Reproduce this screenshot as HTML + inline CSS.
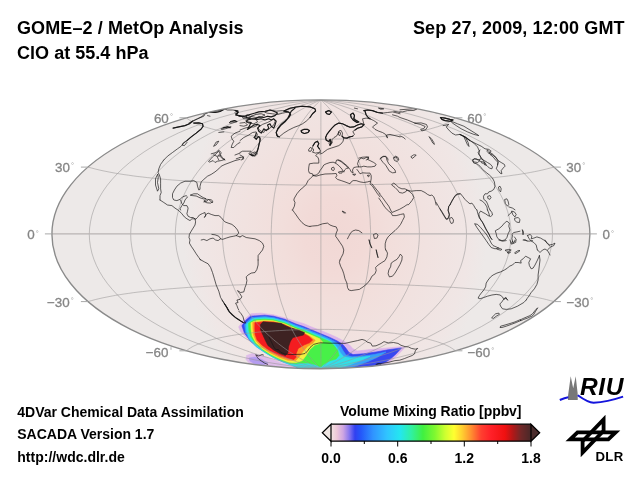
<!DOCTYPE html>
<html lang="en"><head><meta charset="utf-8"><title>GOME-2 / MetOp Analysis</title>
<style>html,body{margin:0;padding:0;background:#fff;overflow:hidden;}svg{display:block;}text{font-family:"Liberation Sans",sans-serif;}.b{font-weight:bold;fill:#000;}.g{fill:#858585;font-size:13.4px;stroke:#858585;stroke-width:0.3px;}</style></head><body>
<svg width="640" height="480" viewBox="0 0 640 480">
<defs>
<radialGradient id="bg" gradientUnits="userSpaceOnUse" cx="335" cy="235" r="152" gradientTransform="translate(335 235) scale(1 1.2) translate(-335 -235)"><stop offset="0" stop-color="#f1d8d5"/><stop offset="0.2" stop-color="#f2dad7"/><stop offset="0.35" stop-color="#f2dedb"/><stop offset="0.6" stop-color="#f1e2e0"/><stop offset="0.88" stop-color="#f0e6e5"/><stop offset="1" stop-color="#ede9e8"/></radialGradient>
<linearGradient id="cb" x1="0" x2="1" y1="0" y2="0">
<stop offset="0" stop-color="#f2e4e2"/>
<stop offset="0.03" stop-color="#ecc6d8"/>
<stop offset="0.06" stop-color="#cfa6e2"/>
<stop offset="0.09" stop-color="#8a78ee"/>
<stop offset="0.12" stop-color="#3040f0"/>
<stop offset="0.15" stop-color="#2458fa"/>
<stop offset="0.21" stop-color="#3094ff"/>
<stop offset="0.28" stop-color="#30c4ff"/>
<stop offset="0.345" stop-color="#24e6f0"/>
<stop offset="0.4" stop-color="#30f0a4"/>
<stop offset="0.46" stop-color="#40f040"/>
<stop offset="0.52" stop-color="#80f830"/>
<stop offset="0.57" stop-color="#ccff30"/>
<stop offset="0.615" stop-color="#ffff30"/>
<stop offset="0.655" stop-color="#ffd030"/>
<stop offset="0.7" stop-color="#ff9030"/>
<stop offset="0.75" stop-color="#ff4030"/>
<stop offset="0.8" stop-color="#ff2028"/>
<stop offset="0.87" stop-color="#f01010"/>
<stop offset="0.91" stop-color="#b01818"/>
<stop offset="0.95" stop-color="#702828"/>
<stop offset="1" stop-color="#482828"/>
</linearGradient>
<clipPath id="el"><ellipse cx="320.9" cy="234.3" rx="269" ry="134.4"/></clipPath>
</defs>
<rect width="640" height="480" fill="#fff"/>
<ellipse cx="320.9" cy="234.3" rx="269" ry="134.4" fill="url(#bg)"/>
<g clip-path="url(#el)">
<g stroke-linejoin="round"><polygon fill="#dcb4ea" stroke="#dcb4ea" stroke-width="0.6" points="238.7,326.9 243.5,320.0 251.0,313.8 261.0,313.2 273.5,314.8 286.0,318.2 296.0,321.4 303.5,323.5 312.3,327.3 321.0,330.6 329.8,334.2 337.3,337.6 344.0,341.2 349.5,345.0 353.0,348.8 357.0,351.0 370.0,349.6 385.0,348.2 400.0,346.8 405.0,347.4 399.0,353.5 394.0,358.5 389.0,362.5 380.0,366.0 360.0,371.0 320.0,373.0 300.0,371.0 296.0,366.0 286.1,363.3 277.3,359.6 268.4,354.6 260.8,349.5 252.0,343.1 244.5,335.5 240.7,331.8"/><polygon fill="#dfbdea" stroke="#dfbdea" stroke-width="0.6" points="246.5,355.5 252.0,353.6 262.0,355.5 272.0,359.5 282.0,363.0 292.0,365.5 300.0,367.0 300.0,372.0 255.0,371.0 250.0,364.0 246.0,359.5"/><polygon fill="#b49cf0" stroke="#b49cf0" stroke-width="0.6" points="249.0,358.0 255.0,357.0 262.0,359.5 268.0,363.0 262.0,365.5 254.0,363.5 250.0,361.0"/><polygon fill="#3848f0" stroke="#3848f0" stroke-width="0.6" points="241.9,325.8 246.0,320.0 250.5,316.2 264.8,315.2 273.5,316.2 284.8,319.3 296.0,324.0 303.5,326.5 312.3,330.2 321.0,333.8 329.8,337.4 337.3,341.0 342.9,344.6 346.0,348.3 349.0,352.5 353.0,354.6 363.5,353.8 376.0,352.0 388.0,349.8 401.5,347.9 396.0,354.0 391.0,358.5 386.0,362.0 375.0,366.0 356.0,370.0 320.0,372.0 300.0,370.0 293.1,364.2 284.2,361.6 275.0,357.6 266.2,352.5 258.5,347.3 250.4,341.1 244.4,332.9"/><polygon fill="#38a0f8" stroke="#38a0f8" stroke-width="0.6" points="244.6,324.7 248.0,321.0 252.0,317.5 264.8,316.6 273.5,317.5 284.8,320.5 296.0,325.2 303.5,327.8 312.3,331.6 321.0,335.0 329.8,338.8 336.0,342.2 340.5,346.0 343.0,350.5 346.0,355.0 352.0,356.8 363.0,356.0 374.0,354.5 386.0,352.0 377.0,357.5 368.0,361.5 356.0,366.0 340.0,370.0 320.0,371.0 300.0,369.0 291.3,365.0 282.8,362.0 273.4,357.5 264.4,352.3 256.6,347.0 249.0,339.6 245.5,331.9"/><polygon fill="#30e0e8" stroke="#30e0e8" stroke-width="0.6" points="246.3,324.0 249.5,321.5 253.0,318.6 264.8,317.8 273.5,318.6 284.8,321.6 296.0,326.4 303.5,329.0 312.3,333.0 321.0,336.5 329.5,340.3 334.5,344.0 338.0,348.5 340.5,353.0 343.5,356.5 350.0,358.0 360.0,357.5 370.0,356.3 362.0,360.0 352.0,364.0 340.0,368.0 320.0,370.0 300.0,368.5 290.4,364.8 281.8,361.3 272.3,356.8 263.7,351.5 255.8,346.1 249.2,338.6 246.7,331.3"/><polygon fill="#48f048" stroke="#48f048" stroke-width="0.6" points="248.5,323.3 251.5,321.5 254.5,319.7 264.8,319.0 273.5,319.7 284.8,322.7 296.0,327.6 303.5,330.2 312.3,334.2 321.0,338.0 329.8,341.5 334.0,345.5 337.8,350.8 339.0,355.5 336.0,359.0 330.0,360.7 323.5,364.4 321.0,367.0 314.8,364.4 308.5,363.1 301.0,363.1 296.1,363.6 290.0,363.6 280.8,360.1 271.1,355.6 262.9,350.2 256.0,344.1 250.9,337.1 248.9,330.7"/><polygon fill="#f4f040" stroke="#f4f040" stroke-width="0.6" points="250.9,322.7 254.0,321.5 256.5,320.7 264.8,320.2 273.5,320.8 284.8,323.8 296.0,328.8 303.5,331.9 312.3,335.6 319.8,338.8 322.9,342.5 314.8,345.0 309.8,349.4 306.0,355.6 302.3,360.6 296.1,362.6 289.2,362.4 279.8,358.8 270.5,354.2 262.2,348.7 255.8,342.6 252.2,336.0 251.1,329.5"/><polygon fill="#ff9628" stroke="#ff9628" stroke-width="0.6" points="252.8,322.5 256.0,322.2 264.8,321.2 273.5,321.6 284.8,324.6 296.0,329.8 303.5,332.8 310.0,336.4 315.2,340.2 312.5,343.4 307.5,346.6 302.6,352.0 299.0,357.0 295.8,360.4 287.9,360.3 278.8,357.0 269.2,352.3 261.4,346.7 256.1,341.0 253.5,334.9 252.9,328.4"/><polygon fill="#f41c20" stroke="#f41c20" stroke-width="0.6" points="254.9,322.5 258.0,322.4 264.8,321.8 273.5,322.2 284.8,325.2 296.0,330.6 303.5,333.4 309.0,336.6 312.6,340.0 309.6,342.8 304.0,345.0 298.2,348.4 296.1,353.7 296.1,357.3 294.0,359.5 288.8,358.5 279.3,355.5 269.8,350.7 261.9,345.0 257.1,339.9 255.1,334.4 254.8,328.4"/><polygon fill="#3e2222" stroke="#3e2222" stroke-width="0.6" points="260.5,324.5 262.9,321.8 273.5,322.6 281.0,323.3 285.4,325.7 291.0,328.0 298.5,330.0 304.5,332.6 303.5,335.0 298.5,336.2 292.9,337.5 290.4,341.2 288.5,346.8 287.9,353.0 285.4,355.6 279.8,353.6 273.5,349.9 267.9,345.5 265.4,340.5 262.9,334.9 260.4,329.5"/></g>
<g fill="none" stroke="#989696" stroke-width="0.55">
<path d="M320.9 368.8 L307.4 367.7 L294.1 366.3 L281.1 364.5 L268.3 362.5 L255.8 360.1 L243.6 357.4 L231.8 354.4 L220.4 351.2 L209.3 347.7 L198.7 343.9 L188.4 339.9 L178.6 335.7 L169.3 331.2 L160.4 326.6 L152.0 321.7 L144.1 316.7 L136.7 311.5 L129.8 306.2 L123.4 300.7 L117.5 295.1 L112.2 289.3 L107.4 283.5 L103.2 277.6 L99.5 271.5 L96.4 265.4 L93.9 259.3 L91.9 253.1 L90.5 246.8 L89.6 240.6 L89.3 234.3 L89.6 228.0 L90.5 221.8 L91.9 215.5 L93.9 209.3 L96.4 203.2 L99.5 197.1 L103.2 191.0 L107.4 185.1 L112.2 179.3 L117.5 173.5 L123.4 167.9 L129.8 162.4 L136.7 157.1 L144.1 151.9 L152.0 146.9 L160.4 142.0 L169.3 137.4 L178.6 132.9 L188.4 128.7 L198.7 124.7 L209.3 120.9 L220.4 117.4 L231.8 114.2 L243.6 111.2 L255.8 108.5 L268.3 106.1 L281.1 104.1 L294.1 102.3 L307.4 100.9 L320.9 99.8"/>
<path d="M320.9 368.8 L308.9 366.9 L297.2 364.7 L285.8 362.2 L274.8 359.5 L264.2 356.5 L253.9 353.4 L244.0 349.9 L234.5 346.3 L225.4 342.5 L216.7 338.5 L208.4 334.3 L200.5 330.0 L193.0 325.5 L186.0 320.8 L179.3 316.0 L173.1 311.1 L167.3 306.1 L161.9 301.0 L156.9 295.8 L152.4 290.5 L148.3 285.1 L144.6 279.6 L141.3 274.1 L138.5 268.5 L136.1 262.9 L134.2 257.2 L132.6 251.5 L131.6 245.8 L130.9 240.0 L130.7 234.3 L130.9 228.6 L131.6 222.8 L132.6 217.1 L134.2 211.4 L136.1 205.7 L138.5 200.1 L141.3 194.5 L144.6 189.0 L148.3 183.5 L152.4 178.1 L156.9 172.8 L161.9 167.6 L167.3 162.5 L173.1 157.5 L179.3 152.6 L186.0 147.8 L193.0 143.1 L200.5 138.6 L208.4 134.3 L216.7 130.1 L225.4 126.1 L234.5 122.3 L244.0 118.7 L253.9 115.2 L264.2 112.1 L274.8 109.1 L285.8 106.4 L297.2 103.9 L308.9 101.7 L320.9 99.8"/>
<path d="M320.9 368.8 L311.1 366.2 L301.7 363.4 L292.7 360.4 L284.0 357.1 L275.6 353.7 L267.7 350.2 L260.0 346.5 L252.7 342.6 L245.8 338.6 L239.2 334.4 L232.9 330.1 L226.9 325.8 L221.3 321.3 L216.0 316.7 L211.1 312.0 L206.5 307.2 L202.1 302.3 L198.2 297.4 L194.5 292.3 L191.2 287.3 L188.2 282.1 L185.5 276.9 L183.1 271.7 L181.0 266.4 L179.3 261.1 L177.9 255.8 L176.7 250.4 L176.0 245.1 L175.5 239.7 L175.3 234.3 L175.5 228.9 L176.0 223.5 L176.7 218.2 L177.9 212.8 L179.3 207.5 L181.0 202.2 L183.1 196.9 L185.5 191.7 L188.2 186.5 L191.2 181.3 L194.5 176.3 L198.2 171.2 L202.1 166.3 L206.5 161.4 L211.1 156.6 L216.0 151.9 L221.3 147.3 L226.9 142.8 L232.9 138.5 L239.2 134.2 L245.8 130.0 L252.7 126.0 L260.0 122.1 L267.7 118.4 L275.6 114.9 L284.0 111.5 L292.7 108.2 L301.7 105.2 L311.1 102.4 L320.9 99.8"/>
<path d="M320.9 368.8 L314.0 365.7 L307.4 362.4 L301.2 359.0 L295.2 355.4 L289.4 351.7 L284.0 347.9 L278.8 344.0 L273.9 340.0 L269.2 335.8 L264.7 331.6 L260.5 327.3 L256.5 322.9 L252.8 318.4 L249.3 313.8 L246.0 309.2 L242.9 304.5 L240.1 299.7 L237.5 294.9 L235.0 290.1 L232.8 285.1 L230.9 280.2 L229.1 275.2 L227.5 270.1 L226.2 265.1 L225.0 260.0 L224.1 254.9 L223.4 249.7 L222.9 244.6 L222.5 239.5 L222.4 234.3 L222.5 229.1 L222.9 224.0 L223.4 218.9 L224.1 213.7 L225.0 208.6 L226.2 203.5 L227.5 198.5 L229.1 193.4 L230.9 188.4 L232.8 183.5 L235.0 178.5 L237.5 173.7 L240.1 168.9 L242.9 164.1 L246.0 159.4 L249.3 154.8 L252.8 150.2 L256.5 145.7 L260.5 141.3 L264.7 137.0 L269.2 132.8 L273.9 128.6 L278.8 124.6 L284.0 120.7 L289.4 116.9 L295.2 113.2 L301.2 109.6 L307.4 106.2 L314.0 102.9 L320.9 99.8"/>
<path d="M320.9 368.8 L317.3 365.3 L314.0 361.8 L310.7 358.1 L307.7 354.4 L304.8 350.5 L302.0 346.6 L299.4 342.5 L296.9 338.4 L294.5 334.2 L292.3 330.0 L290.2 325.6 L288.2 321.2 L286.3 316.7 L284.6 312.2 L283.0 307.6 L281.4 303.0 L280.0 298.3 L278.7 293.5 L277.5 288.7 L276.4 283.9 L275.4 279.1 L274.5 274.2 L273.8 269.3 L273.1 264.3 L272.5 259.3 L272.1 254.4 L271.7 249.4 L271.5 244.3 L271.3 239.3 L271.2 234.3 L271.3 229.3 L271.5 224.3 L271.7 219.2 L272.1 214.2 L272.5 209.3 L273.1 204.3 L273.8 199.3 L274.5 194.4 L275.4 189.5 L276.4 184.7 L277.5 179.9 L278.7 175.1 L280.0 170.3 L281.4 165.6 L283.0 161.0 L284.6 156.4 L286.3 151.9 L288.2 147.4 L290.2 143.0 L292.3 138.6 L294.5 134.4 L296.9 130.2 L299.4 126.1 L302.0 122.0 L304.8 118.1 L307.7 114.2 L310.7 110.5 L314.0 106.8 L317.3 103.3 L320.9 99.8"/>
<path d="M320.9 368.8 L320.9 365.2 L320.9 361.6 L320.9 357.8 L320.9 354.0 L320.9 350.1 L320.9 346.1 L320.9 342.0 L320.9 337.9 L320.9 333.7 L320.9 329.4 L320.9 325.1 L320.9 320.7 L320.9 316.2 L320.9 311.7 L320.9 307.1 L320.9 302.5 L320.9 297.8 L320.9 293.1 L320.9 288.3 L320.9 283.5 L320.9 278.7 L320.9 273.8 L320.9 269.0 L320.9 264.1 L320.9 259.1 L320.9 254.2 L320.9 249.2 L320.9 244.3 L320.9 239.3 L320.9 234.3 L320.9 229.3 L320.9 224.3 L320.9 219.4 L320.9 214.4 L320.9 209.5 L320.9 204.5 L320.9 199.6 L320.9 194.8 L320.9 189.9 L320.9 185.1 L320.9 180.3 L320.9 175.5 L320.9 170.8 L320.9 166.1 L320.9 161.5 L320.9 156.9 L320.9 152.4 L320.9 147.9 L320.9 143.5 L320.9 139.2 L320.9 134.9 L320.9 130.7 L320.9 126.6 L320.9 122.5 L320.9 118.5 L320.9 114.6 L320.9 110.8 L320.9 107.0 L320.9 103.4 L320.9 99.8"/>
<path d="M320.9 368.8 L324.5 365.3 L327.8 361.8 L331.1 358.1 L334.1 354.4 L337.0 350.5 L339.8 346.6 L342.4 342.5 L344.9 338.4 L347.3 334.2 L349.5 330.0 L351.6 325.6 L353.6 321.2 L355.5 316.7 L357.2 312.2 L358.8 307.6 L360.4 303.0 L361.8 298.3 L363.1 293.5 L364.3 288.7 L365.4 283.9 L366.4 279.1 L367.3 274.2 L368.0 269.3 L368.7 264.3 L369.3 259.3 L369.7 254.4 L370.1 249.4 L370.3 244.3 L370.5 239.3 L370.6 234.3 L370.5 229.3 L370.3 224.3 L370.1 219.2 L369.7 214.2 L369.3 209.3 L368.7 204.3 L368.0 199.3 L367.3 194.4 L366.4 189.5 L365.4 184.7 L364.3 179.9 L363.1 175.1 L361.8 170.3 L360.4 165.6 L358.8 161.0 L357.2 156.4 L355.5 151.9 L353.6 147.4 L351.6 143.0 L349.5 138.6 L347.3 134.4 L344.9 130.2 L342.4 126.1 L339.8 122.0 L337.0 118.1 L334.1 114.2 L331.1 110.5 L327.8 106.8 L324.5 103.3 L320.9 99.8"/>
<path d="M320.9 368.8 L327.8 365.7 L334.4 362.4 L340.6 359.0 L346.6 355.4 L352.4 351.7 L357.8 347.9 L363.0 344.0 L367.9 340.0 L372.6 335.8 L377.1 331.6 L381.3 327.3 L385.3 322.9 L389.0 318.4 L392.5 313.8 L395.8 309.2 L398.9 304.5 L401.7 299.7 L404.3 294.9 L406.8 290.1 L409.0 285.1 L410.9 280.2 L412.7 275.2 L414.3 270.1 L415.6 265.1 L416.8 260.0 L417.7 254.9 L418.4 249.7 L418.9 244.6 L419.3 239.5 L419.4 234.3 L419.3 229.1 L418.9 224.0 L418.4 218.9 L417.7 213.7 L416.8 208.6 L415.6 203.5 L414.3 198.5 L412.7 193.4 L410.9 188.4 L409.0 183.5 L406.8 178.5 L404.3 173.7 L401.7 168.9 L398.9 164.1 L395.8 159.4 L392.5 154.8 L389.0 150.2 L385.3 145.7 L381.3 141.3 L377.1 137.0 L372.6 132.8 L367.9 128.6 L363.0 124.6 L357.8 120.7 L352.4 116.9 L346.6 113.2 L340.6 109.6 L334.4 106.2 L327.8 102.9 L320.9 99.8"/>
<path d="M320.9 368.8 L330.7 366.2 L340.1 363.4 L349.1 360.4 L357.8 357.1 L366.2 353.7 L374.1 350.2 L381.8 346.5 L389.1 342.6 L396.0 338.6 L402.6 334.4 L408.9 330.1 L414.9 325.8 L420.5 321.3 L425.8 316.7 L430.7 312.0 L435.3 307.2 L439.7 302.3 L443.6 297.4 L447.3 292.3 L450.6 287.3 L453.6 282.1 L456.3 276.9 L458.7 271.7 L460.8 266.4 L462.5 261.1 L463.9 255.8 L465.1 250.4 L465.8 245.1 L466.3 239.7 L466.5 234.3 L466.3 228.9 L465.8 223.5 L465.1 218.2 L463.9 212.8 L462.5 207.5 L460.8 202.2 L458.7 196.9 L456.3 191.7 L453.6 186.5 L450.6 181.3 L447.3 176.3 L443.6 171.2 L439.7 166.3 L435.3 161.4 L430.7 156.6 L425.8 151.9 L420.5 147.3 L414.9 142.8 L408.9 138.5 L402.6 134.2 L396.0 130.0 L389.1 126.0 L381.8 122.1 L374.1 118.4 L366.2 114.9 L357.8 111.5 L349.1 108.2 L340.1 105.2 L330.7 102.4 L320.9 99.8"/>
<path d="M320.9 368.8 L332.9 366.9 L344.6 364.7 L356.0 362.2 L367.0 359.5 L377.6 356.5 L387.9 353.4 L397.8 349.9 L407.3 346.3 L416.4 342.5 L425.1 338.5 L433.4 334.3 L441.3 330.0 L448.8 325.5 L455.8 320.8 L462.5 316.0 L468.7 311.1 L474.5 306.1 L479.9 301.0 L484.9 295.8 L489.4 290.5 L493.5 285.1 L497.2 279.6 L500.5 274.1 L503.3 268.5 L505.7 262.9 L507.6 257.2 L509.2 251.5 L510.2 245.8 L510.9 240.0 L511.1 234.3 L510.9 228.6 L510.2 222.8 L509.2 217.1 L507.6 211.4 L505.7 205.7 L503.3 200.1 L500.5 194.5 L497.2 189.0 L493.5 183.5 L489.4 178.1 L484.9 172.8 L479.9 167.6 L474.5 162.5 L468.7 157.5 L462.5 152.6 L455.8 147.8 L448.8 143.1 L441.3 138.6 L433.4 134.3 L425.1 130.1 L416.4 126.1 L407.3 122.3 L397.8 118.7 L387.9 115.2 L377.6 112.1 L367.0 109.1 L356.0 106.4 L344.6 103.9 L332.9 101.7 L320.9 99.8"/>
<path d="M320.9 368.8 L334.4 367.7 L347.7 366.3 L360.7 364.5 L373.5 362.5 L386.0 360.1 L398.2 357.4 L410.0 354.4 L421.4 351.2 L432.5 347.7 L443.1 343.9 L453.4 339.9 L463.2 335.7 L472.5 331.2 L481.4 326.6 L489.8 321.7 L497.7 316.7 L505.1 311.5 L512.0 306.2 L518.4 300.7 L524.3 295.1 L529.6 289.3 L534.4 283.5 L538.6 277.6 L542.3 271.5 L545.4 265.4 L547.9 259.3 L549.9 253.1 L551.3 246.8 L552.2 240.6 L552.5 234.3 L552.2 228.0 L551.3 221.8 L549.9 215.5 L547.9 209.3 L545.4 203.2 L542.3 197.1 L538.6 191.0 L534.4 185.1 L529.6 179.3 L524.3 173.5 L518.4 167.9 L512.0 162.4 L505.1 157.1 L497.7 151.9 L489.8 146.9 L481.4 142.0 L472.5 137.4 L463.2 132.9 L453.4 128.7 L443.1 124.7 L432.5 120.9 L421.4 117.4 L410.0 114.2 L398.2 111.2 L386.0 108.5 L373.5 106.1 L360.7 104.1 L347.7 102.3 L334.4 100.9 L320.9 99.8"/>
<path d="M186.4 350.8 L187.6 349.8 L189.0 348.8 L190.5 347.9 L192.1 346.9 L193.8 346.0 L195.7 345.2 L197.6 344.3 L199.7 343.5 L201.8 342.7 L204.1 341.9 L206.5 341.2 L208.9 340.5 L211.4 339.8 L214.0 339.1 L216.7 338.5 L219.5 337.9 L222.3 337.3 L225.2 336.7 L228.2 336.2 L231.3 335.6 L234.4 335.1 L237.5 334.6 L240.8 334.2 L244.1 333.8 L247.4 333.3 L250.8 333.0 L254.2 332.6 L257.7 332.2 L261.2 331.9 L264.7 331.6 L268.3 331.3 L271.9 331.1 L275.6 330.8 L279.3 330.6 L283.0 330.4 L286.7 330.2 L290.4 330.0 L294.2 329.9 L298.0 329.8 L301.8 329.6 L305.6 329.6 L309.4 329.5 L313.2 329.4 L317.1 329.4 L320.9 329.4 L324.7 329.4 L328.6 329.4 L332.4 329.5 L336.2 329.6 L340.0 329.6 L343.8 329.8 L347.6 329.9 L351.4 330.0 L355.1 330.2 L358.8 330.4 L362.5 330.6 L366.2 330.8 L369.9 331.1 L373.5 331.3 L377.1 331.6 L380.6 331.9 L384.1 332.2 L387.6 332.6 L391.0 333.0 L394.4 333.3 L397.7 333.8 L401.0 334.2 L404.3 334.6 L407.4 335.1 L410.5 335.6 L413.6 336.2 L416.6 336.7 L419.5 337.3 L422.3 337.9 L425.1 338.5 L427.8 339.1 L430.4 339.8 L432.9 340.5 L435.3 341.2 L437.7 341.9 L440.0 342.7 L442.1 343.5 L444.2 344.3 L446.1 345.2 L448.0 346.0 L449.7 346.9 L451.3 347.9 L452.8 348.8 L454.2 349.8 L455.4 350.8"/>
<path d="M87.9 301.6 L91.5 300.6 L95.2 299.6 L99.0 298.7 L103.0 297.8 L107.0 297.0 L111.1 296.2 L115.4 295.4 L119.7 294.7 L124.1 294.0 L128.6 293.4 L133.2 292.7 L137.9 292.1 L142.6 291.6 L147.5 291.0 L152.4 290.5 L157.3 290.0 L162.4 289.5 L167.5 289.0 L172.6 288.6 L177.9 288.2 L183.1 287.8 L188.5 287.4 L193.9 287.1 L199.3 286.8 L204.8 286.4 L210.3 286.1 L215.9 285.9 L221.5 285.6 L227.2 285.4 L232.8 285.1 L238.6 284.9 L244.3 284.7 L250.1 284.5 L255.9 284.4 L261.7 284.2 L267.6 284.1 L273.5 284.0 L279.4 283.9 L285.3 283.8 L291.2 283.7 L297.1 283.6 L303.1 283.6 L309.0 283.6 L314.9 283.5 L320.9 283.5 L326.9 283.5 L332.8 283.6 L338.7 283.6 L344.7 283.6 L350.6 283.7 L356.5 283.8 L362.4 283.9 L368.3 284.0 L374.2 284.1 L380.1 284.2 L385.9 284.4 L391.7 284.5 L397.5 284.7 L403.2 284.9 L409.0 285.1 L414.6 285.4 L420.3 285.6 L425.9 285.9 L431.5 286.1 L437.0 286.4 L442.5 286.8 L447.9 287.1 L453.3 287.4 L458.7 287.8 L463.9 288.2 L469.2 288.6 L474.3 289.0 L479.4 289.5 L484.5 290.0 L489.4 290.5 L494.3 291.0 L499.2 291.6 L503.9 292.1 L508.6 292.7 L513.2 293.4 L517.7 294.0 L522.1 294.7 L526.4 295.4 L530.7 296.2 L534.8 297.0 L538.8 297.8 L542.8 298.7 L546.6 299.6 L550.3 300.6 L553.9 301.6"/>
<path d="M87.9 167.1 L91.5 168.0 L95.2 169.0 L99.0 169.9 L103.0 170.8 L107.0 171.6 L111.1 172.4 L115.4 173.2 L119.7 173.9 L124.1 174.6 L128.6 175.2 L133.2 175.9 L137.9 176.5 L142.6 177.0 L147.5 177.6 L152.4 178.1 L157.3 178.6 L162.4 179.1 L167.5 179.6 L172.6 180.0 L177.9 180.4 L183.1 180.8 L188.5 181.2 L193.9 181.5 L199.3 181.8 L204.8 182.2 L210.3 182.5 L215.9 182.7 L221.5 183.0 L227.2 183.2 L232.8 183.5 L238.6 183.7 L244.3 183.9 L250.1 184.1 L255.9 184.2 L261.7 184.4 L267.6 184.5 L273.5 184.6 L279.4 184.7 L285.3 184.8 L291.2 184.9 L297.1 185.0 L303.1 185.0 L309.0 185.0 L314.9 185.1 L320.9 185.1 L326.9 185.1 L332.8 185.0 L338.7 185.0 L344.7 185.0 L350.6 184.9 L356.5 184.8 L362.4 184.7 L368.3 184.6 L374.2 184.5 L380.1 184.4 L385.9 184.2 L391.7 184.1 L397.5 183.9 L403.2 183.7 L409.0 183.5 L414.6 183.2 L420.3 183.0 L425.9 182.7 L431.5 182.5 L437.0 182.2 L442.5 181.8 L447.9 181.5 L453.3 181.2 L458.7 180.8 L463.9 180.4 L469.2 180.0 L474.3 179.6 L479.4 179.1 L484.5 178.6 L489.4 178.1 L494.3 177.6 L499.2 177.0 L503.9 176.5 L508.6 175.9 L513.2 175.2 L517.7 174.6 L522.1 173.9 L526.4 173.2 L530.7 172.4 L534.8 171.6 L538.8 170.8 L542.8 169.9 L546.6 169.0 L550.3 168.0 L553.9 167.1"/>
<path d="M186.4 117.8 L187.6 118.8 L189.0 119.8 L190.5 120.7 L192.1 121.7 L193.8 122.6 L195.7 123.4 L197.6 124.3 L199.7 125.1 L201.8 125.9 L204.1 126.7 L206.5 127.4 L208.9 128.1 L211.4 128.8 L214.0 129.5 L216.7 130.1 L219.5 130.7 L222.3 131.3 L225.2 131.9 L228.2 132.4 L231.3 133.0 L234.4 133.5 L237.5 134.0 L240.8 134.4 L244.1 134.8 L247.4 135.3 L250.8 135.6 L254.2 136.0 L257.7 136.4 L261.2 136.7 L264.7 137.0 L268.3 137.3 L271.9 137.5 L275.6 137.8 L279.3 138.0 L283.0 138.2 L286.7 138.4 L290.4 138.6 L294.2 138.7 L298.0 138.8 L301.8 139.0 L305.6 139.0 L309.4 139.1 L313.2 139.2 L317.1 139.2 L320.9 139.2 L324.7 139.2 L328.6 139.2 L332.4 139.1 L336.2 139.0 L340.0 139.0 L343.8 138.8 L347.6 138.7 L351.4 138.6 L355.1 138.4 L358.8 138.2 L362.5 138.0 L366.2 137.8 L369.9 137.5 L373.5 137.3 L377.1 137.0 L380.6 136.7 L384.1 136.4 L387.6 136.0 L391.0 135.6 L394.4 135.3 L397.7 134.8 L401.0 134.4 L404.3 134.0 L407.4 133.5 L410.5 133.0 L413.6 132.4 L416.6 131.9 L419.5 131.3 L422.3 130.7 L425.1 130.1 L427.8 129.5 L430.4 128.8 L432.9 128.1 L435.3 127.4 L437.7 126.7 L440.0 125.9 L442.1 125.1 L444.2 124.3 L446.1 123.4 L448.0 122.6 L449.7 121.7 L451.3 120.7 L452.8 119.8 L454.2 118.8 L455.4 117.8"/>
<path d="M51.9 233.9H589.9" stroke="#b8b3b3" stroke-width="1.25"/>
</g>
<path fill="none" stroke="#161616" stroke-width="0.68" stroke-linejoin="round" stroke-linecap="round" d="M173.1 128.1L178.8 126.9L185.0 125.6L189.4 123.8L192.5 121.2L197.5 118.8L203.8 116.2L205.6 113.1L210.0 111.9L215.0 112.5L220.0 111.5L223.8 109.4M193.8 123.1L198.8 122.9L202.5 123.8L203.1 126.2L201.2 129.0L196.2 133.1L191.2 136.9L186.9 140.6L183.8 143.1L181.2 146.2L177.5 148.8L172.5 152.5L167.5 156.2L163.8 160.0M183.1 143.1L185.6 141.2L186.9 142.5L184.4 145.6L182.5 145.2ZM207.5 115.6L210.0 116.2M229.4 122.5L235.0 120.6L236.5 121.9L231.2 123.2ZM221.2 128.8L227.5 126.9L231.2 126.9L227.5 128.2L222.5 129.5ZM218.8 132.5L223.8 131.9M213.8 146.0L216.2 142.0L218.8 141.2L216.5 144.5ZM240.0 131.2L235.0 133.1L231.2 136.2L231.9 138.8L233.8 141.2L231.9 145.0L231.2 147.5L233.8 147.5L237.5 143.8L240.0 142.5M211.2 153.8L216.2 152.5L218.8 150.2L221.2 152.5L220.0 156.2L222.5 158.8L225.0 160.0M213.8 155.0L216.9 156.2L218.8 160.0M235.0 112.5L236.9 115.0L240.0 116.2M277.5 136.5L276.2 132.5L278.1 128.1L281.2 124.4L285.0 121.2L288.8 117.5L290.6 114.4L288.8 112.1L283.8 111.0L290.0 108.2L296.2 107.0L302.5 106.2L310.0 106.9L315.0 108.8L315.6 111.0L312.5 113.8L310.0 117.5L306.2 121.2L302.5 123.8L298.8 125.6L293.8 127.5L288.8 130.0L283.8 133.1L280.0 136.2ZM265.0 111.9L270.0 110.0L276.2 111.2L282.5 110.6L287.5 112.1L282.5 113.2L277.5 114.5L272.5 113.8L267.5 113.2ZM258.8 126.9L262.5 124.4L267.5 122.5L271.2 120.6L273.8 118.8L275.2 121.2L273.8 125.0L271.2 126.9L268.8 129.4L265.0 130.0L263.8 132.5L261.2 131.2L258.8 129.4ZM251.2 116.2L256.2 114.4L261.2 113.8L265.0 115.0L261.2 116.9L256.2 117.5ZM242.5 116.2L247.5 115.0L251.2 116.9L247.5 118.8L243.8 118.8ZM246.2 120.2L251.2 118.8L256.2 119.4L257.5 121.9L253.8 123.8L248.8 123.2ZM240.0 123.1L245.0 122.5L247.5 125.0L243.8 126.2L240.0 125.6M240.0 130.0L245.0 128.1L250.0 126.9L253.8 127.0L256.9 125.6M240.0 140.6L243.8 137.5L248.8 135.0L252.5 132.5L256.2 131.9L257.5 135.0L255.0 137.5L256.2 140.0L258.8 136.2L260.6 138.8L259.4 142.5L258.8 146.2L257.5 150.0L256.2 152.5L253.8 153.8L251.2 155.0L248.8 153.8L251.2 151.2L246.2 151.2L242.5 151.2L240.0 152.5M251.5 153.1L255.0 151.9L257.5 153.8L255.0 156.2L252.0 155.8ZM240.0 155.0L242.5 156.2L243.8 158.8L241.2 160.0M301.2 130.6L303.8 129.4L307.5 129.4L309.4 130.6L308.1 132.5L304.4 133.5L301.9 132.5ZM325.6 111.9L328.8 110.6L331.5 111.9L329.5 114.5L326.9 113.8ZM325.6 137.5L326.9 134.4L329.4 131.2L331.9 128.1L335.0 125.0L338.8 123.1L342.5 123.8L346.2 125.6L350.0 127.2L353.8 126.9L357.5 125.0L361.2 123.8L364.0 124.5L361.9 126.9L357.5 128.2L355.0 130.0L352.8 131.5L354.4 134.4L352.8 136.2L349.4 137.0M325.6 137.5L326.2 140.2L328.8 141.5L330.2 139.4L331.0 142.5L330.0 145.2L332.2 143.1L331.9 139.8L334.0 137.5L336.5 136.2L338.2 133.1L339.5 130.6L341.2 130.6L342.5 133.1L342.0 136.2L343.8 137.8L346.9 138.1L349.4 137.0M343.8 137.8L343.1 141.2L341.2 143.8L338.8 145.6L335.0 146.9L331.2 148.1L327.5 149.4L325.0 151.2L322.5 153.1L320.0 154.0M338.8 131.9L340.6 132.8L340.0 135.6L338.8 135.0ZM350.6 114.4L353.1 113.1L354.5 115.6L353.8 118.8L356.2 120.6L358.8 122.0L356.9 122.5L353.1 120.0L351.2 117.5ZM364.0 124.5L363.1 121.2L362.5 118.8L366.2 118.1L370.0 118.8L373.8 120.6L377.5 123.1L375.0 125.0L372.5 126.9L375.0 129.4L378.8 131.2L382.5 132.5L385.6 134.4L387.5 138.1L386.5 135.0L390.0 134.4L395.0 135.6L400.0 136.9M363.8 110.6L367.5 110.0L372.5 110.6L377.5 112.5L382.5 113.1L387.5 112.5L392.5 111.9L397.5 113.1L400.0 113.8M365.0 111.2L366.2 115.0L368.1 117.5L370.0 118.8M354.4 108.1L357.5 108.8M378.8 108.1L383.8 108.8L381.2 109.2ZM393.8 111.2L400.0 112.5M358.8 158.1L362.5 157.2L367.5 156.9L368.8 158.8L366.2 160.0M380.0 158.8L382.5 156.9L385.6 156.2L387.5 158.1L388.1 160.0M393.8 157.8L396.2 156.9L397.5 159.4M400.0 109.8L405.0 109.4L412.5 108.8L416.9 109.0L413.8 110.5L407.5 110.6L402.5 111.9L400.0 111.9M415.0 123.1L421.2 122.9L426.5 124.5L427.5 126.9L425.6 129.8L421.9 130.9L420.6 129.6L423.8 128.5L425.2 126.5L420.6 124.5ZM429.4 136.9L431.9 139.4L433.8 142.5L434.4 144.4L432.8 143.1L431.2 140.2ZM400.0 136.0L403.1 137.2L405.2 139.0M411.2 156.5L413.8 154.8L416.2 155.0L414.4 156.9L412.5 158.2ZM451.2 121.2L457.5 123.8L463.8 126.2L470.0 130.0L475.0 133.1L478.8 135.6L473.8 134.4L467.5 131.9L461.2 128.8L456.2 125.6L452.5 123.1ZM440.6 117.5L445.0 118.1L450.0 119.4L453.1 120.0L450.0 121.2L445.0 120.6L441.9 119.4ZM435.0 112.5L441.2 113.8L446.2 115.0M443.1 125.6L448.8 124.4L446.2 126.9L448.8 130.0L451.9 133.1L455.6 135.0L460.0 134.4L465.0 136.9L470.0 140.6L473.8 143.1L477.5 146.9L479.4 151.2L478.8 154.4L481.2 157.5L483.8 161.2L485.0 165.0M463.8 136.2L466.2 138.8L468.1 142.5L469.0 146.5L467.5 144.8L465.6 140.6ZM471.2 141.2L476.2 143.8L481.2 146.2L485.0 148.8L488.8 149.4L491.2 151.2L488.8 153.1L492.5 155.0L496.2 157.5L498.1 161.2L497.5 165.0M473.1 159.4L476.2 158.8L480.0 160.6L477.5 162.5L473.8 161.9ZM480.0 161.2L485.0 162.5L486.2 165.0M208.8 161.2L212.5 156.9L216.2 153.8L218.8 151.2L220.0 153.8L217.5 156.2L221.2 155.6L222.5 158.1L225.0 159.4L221.2 160.6L217.5 161.2L215.0 162.5L213.1 160.6L210.0 161.9ZM240.0 159.4L235.0 160.6L230.0 162.5L225.0 164.4L221.2 166.2L218.8 168.8L215.0 171.9L211.2 174.4L207.5 176.2L203.8 179.4L201.2 181.9L200.0 186.2L200.0 189.4L198.8 190.0L197.5 186.2L196.9 182.5L193.8 180.6L190.0 181.2L185.0 181.2L180.6 183.1L176.9 186.2L174.4 190.0L172.5 193.8L172.5 197.5L173.8 200.0L176.9 200.6L180.0 199.4L182.5 196.9L186.2 195.6L187.5 196.9L185.0 200.0L183.8 203.1L181.9 205.6L180.0 208.8L180.6 210.0M235.0 155.0L240.0 153.1M236.2 158.8L240.0 157.5M190.6 195.0L193.8 193.8L197.5 193.8L200.0 195.6L203.1 197.5L206.2 198.8L203.8 199.0L200.0 197.8L196.2 196.0L192.5 195.6ZM204.4 200.6L207.5 199.4L211.2 199.8L213.1 201.5L210.6 203.1L206.9 202.8L205.0 201.9ZM240.0 157.5L243.8 156.9L242.5 158.8M313.8 175.0L311.2 177.5L308.1 180.6L306.2 184.4L303.8 186.9L300.0 190.0L296.9 193.8L294.4 198.1L293.8 200.0L295.0 202.5L294.4 206.2L292.5 210.0M330.0 140.6L329.0 143.1L330.0 145.6L331.2 143.8L331.0 141.2M313.1 145.6L315.0 142.5L317.5 141.2L318.8 143.8L317.5 146.2L319.4 148.8L320.6 151.2L318.8 152.5L315.6 153.1L312.5 152.2L313.8 150.0L312.5 148.1ZM308.8 149.4L310.6 147.2L312.1 149.0L311.0 151.2L309.2 151.2ZM320.6 152.2L317.5 153.8L315.6 155.6L318.1 157.5L318.8 160.0L318.8 163.1L313.8 163.1L309.4 163.8L308.8 166.9L308.5 170.6L309.4 173.1L312.5 173.8L313.1 175.6L316.2 175.0L318.8 173.1L320.0 170.6L321.9 168.1L323.8 165.0L326.2 163.8L330.0 162.5L333.1 162.2L335.6 163.1L338.8 165.6L341.9 169.0L343.8 172.2L344.6 170.0L346.2 168.5L348.4 168.1L345.2 165.0L341.5 162.0L338.1 160.0L336.5 160.2L335.6 163.1M338.1 160.0L340.6 160.6L343.8 163.1L347.5 166.2L350.0 169.4L351.2 171.9L353.1 173.1L352.5 170.0L353.8 167.5L356.9 166.9L358.8 166.9L357.5 163.8L358.8 160.0L361.2 158.1L363.8 158.8L366.2 157.5L368.8 156.9L367.5 159.4L370.0 160.6L373.8 162.5L376.2 164.4L375.0 166.2L371.2 166.9L367.5 166.9L363.8 166.2L361.2 166.9L358.8 166.9M356.9 169.4L358.8 171.9L360.0 173.8L362.5 172.8L366.2 173.1L370.0 173.1L371.2 175.6L371.2 178.8L370.6 181.9L370.0 183.8L372.5 186.2L375.0 190.0L377.5 193.8L380.0 196.9M371.9 183.8L374.4 186.9L376.9 190.0L380.0 193.8M338.8 171.9L342.5 171.2L341.9 173.1L339.4 173.1ZM331.9 167.8L333.5 167.0L334.5 169.0L333.5 170.6L332.0 170.0ZM367.5 175.4L369.4 175.0L368.8 176.5ZM353.1 174.4L355.6 174.0L355.0 175.0ZM313.1 175.6L316.2 176.2L320.0 175.0L325.0 174.0L331.2 173.8L336.2 173.5L336.9 175.6L335.6 177.5L337.5 179.4L341.2 180.6L345.0 181.9L348.1 183.1L350.0 183.8L351.2 181.9L353.1 180.6L356.2 180.6L360.0 181.9L363.8 182.5L367.5 181.9L370.0 181.2L370.6 181.9M381.2 157.5L383.8 156.2L386.2 156.9L386.9 160.0L388.8 163.8L391.9 166.9L395.0 170.0L395.6 172.5L392.5 172.8L389.4 171.2L387.5 168.1L385.6 165.0L383.1 162.5L381.2 160.0ZM393.8 157.5L395.6 156.2L398.1 157.5L398.8 160.0L396.9 161.5L394.8 160.6ZM391.9 184.4L393.8 183.1L396.2 185.0L398.8 187.5L401.9 188.8L405.0 188.8L406.9 190.0L405.6 191.9L402.5 193.1L399.4 192.5L397.5 190.0L395.0 187.5L392.5 185.6ZM406.9 190.0L410.0 191.9L412.5 194.4L413.8 197.5L411.9 200.6L410.0 203.1L408.1 205.0M406.9 190.0L411.2 191.2L416.2 190.6L421.2 190.6L425.0 192.5L427.5 194.4L430.0 195.6L431.9 195.0L433.8 196.9L435.0 200.0L436.2 205.0M450.0 205.0L452.5 200.0L455.0 196.2L457.5 194.4L460.0 193.8M480.0 150.0L478.1 152.5L480.0 155.6L481.2 158.8L478.1 160.0L474.4 158.5L472.5 160.6L473.8 163.1L476.9 163.8L480.0 166.2L482.5 169.4L486.2 172.5L489.4 175.0L492.5 178.1L494.4 181.9L495.0 186.2L493.8 189.4L491.2 191.2L488.8 191.9L487.5 193.8L485.0 193.8L483.5 196.2L483.8 199.4L486.2 201.2L487.5 203.8L488.8 207.5L490.0 210.0M481.2 158.8L484.4 160.6L487.5 162.5L490.6 164.4L492.5 166.9L491.9 168.8L489.4 168.1L486.9 165.6L483.8 163.8L481.2 162.5M487.5 150.0L490.0 152.5L493.1 154.4L495.6 157.5L498.1 160.6L501.2 162.5L504.4 164.4L505.0 166.2L503.1 168.1L501.2 170.6L501.9 173.8L500.0 173.1L498.1 170.6L496.2 168.8L497.5 165.6L498.1 162.5L495.6 160.0L493.1 156.9L490.0 154.4L487.5 151.9ZM498.8 186.9L500.0 186.2L501.2 188.8L500.6 191.9L499.4 190.6ZM505.0 199.4L506.9 198.8L508.1 201.2L508.8 204.4L507.5 206.2L505.6 203.8ZM508.8 206.9L512.5 208.1L515.0 209.8M480.0 200.0L482.5 201.2L485.0 203.8L486.9 206.9L487.5 210.0M450.0 204.4L452.5 200.0L455.0 195.6L457.5 193.8L460.6 193.8L462.5 196.2L465.0 199.4L467.5 201.9L470.0 203.8L471.9 203.1L473.8 205.6L475.6 208.8L476.9 210.0M160.0 200.0L163.8 202.5L167.5 205.0L171.9 205.6L175.0 208.1L178.8 210.6L181.9 213.8L184.4 216.9L186.9 218.8L190.0 220.6L191.9 218.8L195.0 218.8M180.6 200.0L181.9 203.8L183.8 205.6L186.9 205.6L188.1 208.1L187.5 211.2L186.9 213.8L188.1 216.2L190.6 217.5L193.1 217.5L195.6 219.4L197.5 217.5L199.4 215.0L202.5 213.5L205.0 212.5L205.6 215.6L204.4 217.5L206.2 214.4L208.1 213.1L211.2 214.4L215.0 215.6L218.8 215.6L221.2 217.5L223.1 220.0L225.0 221.9L228.1 223.1L231.9 224.4L235.0 226.9L237.5 230.0L238.8 233.1L236.2 235.6L240.0 236.9M195.0 218.8L195.6 221.9L195.0 225.0L193.1 228.1L191.2 231.2L189.4 234.4L189.0 237.5L190.0 240.0L189.4 243.1L191.2 246.2L193.8 250.0L196.2 253.8L198.8 257.5L200.6 260.0M201.2 240.0L203.8 239.4L206.9 240.6L210.0 238.8L213.1 238.1L215.6 240.0L218.1 240.6L220.6 238.8L218.8 236.2L215.0 234.8L211.9 234.4M220.6 238.8L222.5 239.4L226.2 238.1L230.0 236.9L233.8 236.2L236.2 235.6M203.8 201.9L206.9 201.2L208.1 200.0M209.4 200.0L211.2 201.9L212.5 202.5M240.0 236.9L242.5 235.6L246.2 237.5L250.0 238.1L255.0 238.8L259.4 240.6L262.5 243.1L263.8 246.2L262.5 250.0L260.0 253.1L258.1 255.6L258.1 260.0M292.5 210.0L294.4 212.5L296.2 215.0L298.8 218.8L301.9 222.5L305.0 225.0L308.1 226.2L310.0 226.5M310.0 226.4L312.5 226.0L317.5 225.6L322.5 223.8L327.5 223.1L330.0 225.0L333.1 226.2L336.2 226.9L337.5 230.0L336.2 233.1L335.6 236.2L337.5 238.8L340.0 242.5L342.5 246.2L343.8 250.0L343.1 253.8L341.2 257.5L340.0 260.0M342.5 211.2L344.4 211.9L345.6 213.1L343.8 212.8ZM347.5 238.8L348.8 236.2L350.6 233.1L352.5 231.0L355.6 230.0L358.8 230.6L361.9 232.8M373.8 234.4L376.2 233.5L378.1 235.0L376.9 238.1L374.8 238.5ZM369.1 240.0L369.8 243.8L371.9 248.1L370.2 244.0ZM376.2 250.0L376.9 253.8L378.1 257.8L377.2 253.8ZM378.8 198.1L381.9 202.5L385.0 207.5L388.8 211.2L391.2 213.1L392.5 215.6L396.2 215.6L400.6 214.4L403.8 213.8L404.4 216.9L402.5 220.6L400.6 224.4L398.1 227.5L395.0 230.6L391.2 233.8L388.1 236.9L386.2 240.0L385.2 243.8L385.2 247.5L385.6 250.0M379.4 193.8L382.5 197.5L385.6 201.9L388.8 206.2L390.6 210.0L391.9 212.5L395.0 211.2L399.4 209.4L403.8 206.9L407.5 204.4M436.2 202.5L438.8 206.9L441.2 211.2L443.8 215.6L446.2 219.4L448.1 218.1L449.4 214.4L448.1 210.0L448.8 206.2L450.0 205.0M440.0 208.8L442.5 212.5L445.0 216.9L446.9 219.4L448.8 218.1L449.4 215.0L448.1 210.6L448.8 206.2L450.0 204.8M490.0 210.0L491.9 212.5L492.5 215.0L490.6 216.5L488.1 215.6L485.6 213.8L483.1 212.5L480.6 211.0L478.8 213.8L479.4 216.9L481.2 220.6L483.1 223.1L485.0 226.9L486.9 230.6L488.8 233.8L490.0 236.9L491.9 239.4M487.5 210.0L488.8 213.1L489.4 215.6M476.9 210.0L478.1 214.4L479.4 218.1L481.9 221.2L483.8 225.0L485.6 228.8L487.5 231.9L489.4 235.0L490.6 237.5L491.9 239.4M450.0 218.1L451.9 217.5L453.5 220.0L453.1 222.8L451.2 223.5L450.0 221.2ZM475.0 223.8L477.5 224.4L480.6 227.5L483.8 231.2L486.9 235.0L489.4 239.4L491.2 243.1L493.1 245.6L496.2 246.9L498.8 248.1L495.0 248.8L491.2 247.5L488.8 244.4L486.2 240.6L483.1 236.2L480.0 231.9L476.9 227.5ZM495.6 230.6L498.8 228.8L501.9 226.2L504.4 223.1L506.9 221.2L509.4 223.1L508.8 226.2L510.0 230.0L508.1 233.8L506.9 237.5L505.0 240.0L501.9 240.6L498.8 239.4L496.9 236.9L496.2 233.8ZM511.9 211.2L514.4 211.9L516.2 214.4L515.0 216.9L513.1 215.0ZM515.0 218.1L518.1 217.5L520.0 219.4L519.4 222.5L516.9 222.2L515.0 220.6ZM508.1 215.6L511.9 211.9M511.9 234.4L513.8 232.5L516.9 231.9L520.0 231.2M512.5 235.0L511.9 238.8L513.1 242.5L511.9 244.4M514.4 236.9L516.2 239.4L515.6 242.5M488.1 196.2L490.0 195.6L491.0 197.5L489.8 199.4L488.1 198.5ZM522.5 230.0L523.5 231.9L523.1 234.4ZM527.5 235.6L530.0 234.4L531.9 236.2L531.2 238.8L533.8 238.1L536.9 236.9L540.6 238.1L543.8 240.0L546.9 242.5L549.4 245.0L552.5 244.4L555.0 243.1L553.8 245.6L550.6 246.9L548.8 248.8L547.5 250.0M527.5 235.6L528.8 238.1L530.6 240.6L533.8 242.5L536.2 245.0L536.9 248.1L537.5 250.0M523.1 240.0L525.6 239.8L526.9 241.2M200.0 259.4L204.4 261.9L208.1 263.8L210.6 267.5L212.5 272.5L214.4 278.8L216.2 285.0L218.8 291.2L220.6 297.5L223.8 302.5L226.2 306.2L228.1 310.0M258.1 260.0L258.1 265.0L256.9 269.4L255.0 272.5L251.2 273.1L248.1 275.0L246.2 276.9L246.9 280.6L246.2 284.4L245.0 287.5L243.8 291.9L240.6 292.5L237.5 290.6L240.0 293.8L241.9 296.9L240.0 299.4L236.9 300.0L238.1 302.5L235.6 303.1L236.9 305.6L238.1 308.8L238.8 310.0M340.0 260.0L339.4 262.5L340.6 266.2L342.5 270.0L343.8 273.8L345.0 278.8L346.9 283.1L347.5 287.5L348.8 290.0L351.2 290.6L355.0 290.0L359.4 289.4L363.1 286.9L366.9 283.8L370.0 280.0L371.9 276.2L375.0 273.8L376.2 270.6L375.6 267.5L378.1 265.0L381.9 262.5L385.0 260.6L386.9 256.9L387.5 253.1L386.0 250.0M400.6 254.4L402.2 256.2L401.9 260.0L400.0 264.4L397.5 268.8L395.0 273.1L392.5 276.2L389.4 276.9L388.1 273.8L388.8 270.0L390.6 266.9L391.2 263.1L393.8 261.2L396.9 259.4L398.8 256.9ZM498.8 248.1L501.9 249.4L500.6 250.2L496.9 249.2M505.6 250.0L508.8 249.4L511.2 250.0L508.8 251.2L506.2 251.0ZM507.5 252.5L510.6 251.9L509.4 253.2ZM515.0 252.5L518.1 250.6L520.0 250.6L517.5 252.5L515.6 253.5ZM498.8 240.0L502.5 241.2L506.2 240.6M510.0 240.0L511.2 243.8L512.5 241.2L513.8 243.8L515.0 240.0M523.8 240.0L528.8 241.2L532.5 240.6M537.5 250.0L540.0 252.5L542.5 250.0L545.0 249.0L547.5 250.6L549.4 253.8L550.0 255.0M545.0 240.0L547.5 243.8L550.0 246.2M539.4 255.6L537.5 260.0L535.0 265.0L533.1 268.1L531.2 268.8L529.4 265.6L528.8 262.5L530.6 258.8L528.1 257.5L525.6 256.2L523.1 258.8L520.6 260.6L521.2 263.1L518.1 262.5L515.0 262.5L512.5 265.0L509.4 266.2L507.5 268.1L504.4 270.0L500.6 271.9L496.9 273.1L493.1 275.0L490.6 276.9L488.1 280.0L486.2 283.1L485.6 286.9L483.8 290.0L481.2 293.1L479.4 295.6L478.1 298.1L480.0 298.8L483.8 297.5L487.5 296.2L491.9 295.0L496.2 294.4L500.0 295.0L502.5 296.9L503.8 299.4L506.2 298.1L507.5 300.0M539.4 255.6L540.0 260.0L539.4 265.0L538.8 270.0L538.1 275.0L538.1 280.0L536.9 284.4L534.4 288.8L531.2 292.5L528.8 296.2L526.9 298.8L526.2 300.0M507.5 300.0L505.6 297.2L503.1 300.0L501.9 301.9L499.8 304.0L500.6 306.2L502.5 308.8L506.2 309.4L511.2 308.8L517.5 306.2L523.8 302.5L526.2 300.0M491.9 317.5L495.6 313.8L498.8 313.1L499.4 314.4L496.2 316.2L493.8 318.1ZM537.5 308.1L535.6 311.2L533.8 314.4L531.9 316.2L530.0 316.9L527.5 318.1L523.8 319.4L521.2 320.6L520.0 320.0L523.1 318.5L526.9 316.9L530.0 315.6L532.5 313.8L535.0 310.6ZM520.6 320.6L516.2 322.5L511.2 324.4L506.2 326.2L501.9 327.5L500.0 327.5L500.6 326.2L505.0 325.0L510.0 323.5L515.0 321.9L519.4 320.0ZM269.0 337.2L271.0 341.0L272.3 343.8L273.8 347.0L275.6 349.4L278.4 349.8M278.4 349.8L281.0 352.5L285.0 354.0L290.0 354.6L296.0 354.4L301.0 354.3L305.0 353.5L307.5 351.0L310.0 347.5L313.5 344.4L318.5 343.1L321.0 342.8L330.0 343.2L337.0 343.2L345.0 343.4L351.0 342.0L357.5 340.6L362.0 339.4L365.3 340.4L367.0 342.0L370.8 343.2L372.3 346.1L376.0 345.8L381.0 343.6L384.0 341.6L388.5 343.0L393.5 342.5L398.0 343.4L401.0 345.3L405.0 346.6L408.3 346.9L411.4 348.4L415.3 349.2L417.7 348.4L415.3 350.8L414.5 353.9L412.2 355.5L408.3 357.0L404.4 358.6L399.7 360.2L395.0 360.6L389.0 362.2L382.5 363.3L377.0 364.0M256.0 355.0L258.8 356.0L262.0 354.5L263.4 355.0M256.0 355.0L257.3 357.3L258.8 359.2L261.6 361.1L264.4 363.0L267.7 364.4M376.0 364.5L379.0 363.6L381.0 364.6M228.1 310.0L229.4 311.9L232.5 315.0L236.2 318.1L240.0 320.6L243.1 322.5L245.6 323.1L243.8 320.0L243.1 316.9L241.2 313.8L238.8 311.2M221.9 300.0L224.4 303.8L226.9 307.5L228.1 310.0M163.8 160.0L160.6 164.4L158.8 168.8L158.1 172.5L159.4 175.0L160.6 178.8L160.6 183.8L160.6 188.8L161.2 192.5L160.0 195.6L160.0 200.0M157.5 174.5L155.5 178.8L155.5 185.0L157.5 191.2L158.8 188.8L157.5 182.5L158.2 177.5ZM392.5 114.8L397.5 116.2L400.0 117.5L407.5 120.0L415.0 123.1M188.8 123.1L192.5 121.2L197.5 118.8L202.5 116.2L205.0 113.1L208.8 111.9L213.8 111.2L220.0 110.0L223.8 108.8L227.5 110.0L232.5 110.0L237.5 110.6L238.1 112.5L236.2 115.0L240.0 116.2L245.0 116.9L250.0 117.5"/><path fill="none" stroke="#181818" stroke-width="1.15" stroke-linejoin="round" stroke-linecap="round" d="M246.2 115.6L252.5 113.8L258.8 111.9L265.0 111.2L270.0 110.0L273.8 111.2L277.5 113.1L275.0 115.6L271.2 116.9L267.5 116.2L263.8 117.5L258.8 116.9L255.0 118.8L250.0 118.8L246.2 117.5ZM247.5 120.0L252.5 118.8L257.5 119.4L261.2 118.8L265.0 120.0L268.8 118.8L271.2 120.0L273.8 118.8L276.2 121.2L275.0 125.0L273.8 128.1L271.2 126.2L270.0 123.8L267.5 125.0L268.8 128.1L266.2 130.6L263.8 128.8L262.5 131.2L261.2 133.1L258.8 131.2L257.5 128.1L260.0 125.6L257.5 124.4L253.8 125.0L251.2 126.9L247.5 129.4L251.2 122.5L246.2 121.9ZM230.6 121.5L234.4 120.6L236.9 121.5M223.1 127.8L227.5 126.9L230.0 127.8M235.6 110.6L238.1 111.0L236.9 113.1L235.6 115.0L239.4 115.6L243.8 116.2M295.0 108.1L291.2 111.2L289.4 115.0L287.5 118.8L285.0 121.9L281.2 125.0L278.1 128.8L276.2 132.5L276.9 135.6L279.4 136.9M256.2 133.1L255.6 135.6L254.0 137.5L256.2 138.8L258.1 136.5L259.8 137.8L260.0 141.2L258.8 145.0L258.1 148.8L256.9 152.5L255.0 155.0L252.5 155.6L250.2 154.5M277.5 136.5L276.2 132.5L278.1 128.1L281.2 124.4L285.0 121.2L288.8 117.5L290.6 114.4L288.8 112.1L283.8 111.0L290.0 108.2L296.2 107.0L302.5 106.2L310.0 106.9L315.0 108.8L315.6 111.0L312.5 113.8L310.0 117.5M301.2 130.6L303.8 129.4L307.5 129.4L309.4 130.6L308.1 132.5L304.4 133.5L301.9 132.5ZM325.6 137.5L326.9 134.4L329.4 131.2L331.9 128.1L335.0 125.0L338.8 123.1L342.5 123.8L346.2 125.6L350.0 127.2L353.8 126.9L357.5 125.0L361.2 123.8L364.0 124.5L361.9 126.9L357.5 128.2L355.0 130.0M325.6 111.9L328.8 110.6L331.5 111.9L329.5 114.5L326.9 113.8ZM350.6 114.4L353.1 113.1L354.5 115.6L353.8 118.8L356.2 120.6L358.8 122.0L356.9 122.5L353.1 120.0L351.2 117.5ZM325.6 137.5L326.2 140.2L328.8 141.5L330.2 139.4L331.0 142.5L330.0 145.2M342.0 136.2L343.8 137.8L346.9 138.1L349.4 137.0L352.8 136.2M363.8 110.6L367.5 110.0L372.5 110.6L377.5 112.5L382.5 113.1M365.0 111.2L366.2 115.0L368.1 117.5L370.0 118.8M173.1 128.1L178.8 126.9L185.0 125.6L189.4 123.8L192.5 121.2M193.8 123.1L198.8 122.9L202.5 123.8L203.1 126.2L201.2 129.0L196.2 133.1L191.2 136.9L186.9 140.6M205.6 113.1L210.0 111.9L215.0 112.5L220.0 111.5L223.8 109.4M313.1 145.6L315.0 142.5L317.5 141.2L318.8 143.8L317.5 146.2L319.4 148.8M440.6 117.5L445.0 118.1L450.0 119.4L453.1 120.0L450.0 121.2L445.0 120.6L441.9 119.4ZM460.0 134.4L465.0 136.9L470.0 140.6M224.4 303.8L226.9 307.5L229.4 311.9L232.5 315.0L236.2 318.1L240.0 320.6L243.1 322.5M205.0 113.1L208.8 111.9L213.8 111.2L220.0 110.0L223.8 108.8M235.0 110.6L238.1 112.5L236.2 115.0L240.0 116.2L245.0 116.9"/>
</g>
<ellipse cx="320.9" cy="234.3" rx="269" ry="134.4" fill="none" stroke="#8a8a8a" stroke-width="1.35"/>
<g stroke="#a8a8a8" stroke-width="1" fill="none">
<path d="M179.4 350.8H186.4 M455.4 350.8H462.4"/>
<path d="M80.9 301.6H87.9 M553.9 301.6H560.9"/>
<path d="M44.9 233.9H51.9 M589.9 233.9H596.9"/>
<path d="M80.9 167.1H87.9 M553.9 167.1H560.9"/>
<path d="M179.4 117.8H186.4 M455.4 117.8H462.4"/>
</g>
<text class="g" x="153.9" y="122.5">60<tspan font-size="7.5px" dy="-3.6" dx="1.1" stroke="none" fill="#9c9c9c">°</tspan></text>
<text class="g" x="467.3" y="122.5">60<tspan font-size="7.5px" dy="-3.6" dx="1.1" stroke="none" fill="#9c9c9c">°</tspan></text>
<text class="g" x="55.1" y="171.8">30<tspan font-size="7.5px" dy="-3.6" dx="1.1" stroke="none" fill="#9c9c9c">°</tspan></text>
<text class="g" x="566.2" y="171.8">30<tspan font-size="7.5px" dy="-3.6" dx="1.1" stroke="none" fill="#9c9c9c">°</tspan></text>
<text class="g" x="27.2" y="239.3">0<tspan font-size="7.5px" dy="-3.6" dx="1.1" stroke="none" fill="#9c9c9c">°</tspan></text>
<text class="g" x="602.5" y="239.3">0<tspan font-size="7.5px" dy="-3.6" dx="1.1" stroke="none" fill="#9c9c9c">°</tspan></text>
<text class="g" x="46.9" y="306.8">−30<tspan font-size="7.5px" dy="-3.6" dx="1.1" stroke="none" fill="#9c9c9c">°</tspan></text>
<text class="g" x="566.4" y="306.8">−30<tspan font-size="7.5px" dy="-3.6" dx="1.1" stroke="none" fill="#9c9c9c">°</tspan></text>
<text class="g" x="145.8" y="356.8">−60<tspan font-size="7.5px" dy="-3.6" dx="1.1" stroke="none" fill="#9c9c9c">°</tspan></text>
<text class="g" x="467.4" y="356.8">−60<tspan font-size="7.5px" dy="-3.6" dx="1.1" stroke="none" fill="#9c9c9c">°</tspan></text>
<text class="b" x="17" y="34.4" font-size="18px" textLength="226.5">GOME–2 / MetOp Analysis</text>
<text class="b" x="17" y="58.6" font-size="18px" textLength="131.5">ClO at 55.4 hPa</text>
<text class="b" x="413" y="34.4" font-size="18px" textLength="211.5">Sep 27, 2009, 12:00 GMT</text>
<text class="b" x="17.3" y="417" font-size="14px" textLength="226.5">4DVar Chemical Data Assimilation</text>
<text class="b" x="17.3" y="439.4" font-size="14px" textLength="137">SACADA Version 1.7</text>
<text class="b" x="17.3" y="461.9" font-size="14px" textLength="107.5">http://wdc.dlr.de</text>
<text class="b" x="340" y="415.5" font-size="14px" textLength="181.5">Volume Mixing Ratio [ppbv]</text>
<rect x="331" y="424.2" width="200" height="17" fill="url(#cb)"/>
<path d="M331 424.2L322.3 432.7L331 441.2Z" fill="#efe6e3" stroke="#000" stroke-width="1.2" stroke-linejoin="miter"/>
<path d="M531 424.2L539.7 432.7L531 441.2Z" fill="#4a2c2c" stroke="#000" stroke-width="1.2" stroke-linejoin="miter"/>
<path d="M331 424.2H531M331 441.2H531" stroke="#000" stroke-width="1.2" fill="none"/>
<g stroke="#000" stroke-width="1" fill="none">
<path d="M331.0 441V446.5"/>
<path d="M364.3 441V444.0"/>
<path d="M397.7 441V446.5"/>
<path d="M431.0 441V444.0"/>
<path d="M464.3 441V446.5"/>
<path d="M497.7 441V444.0"/>
<path d="M531.0 441V446.5"/>
</g>
<text class="b" x="331.0" y="463" font-size="14px" text-anchor="middle">0.0</text>
<text class="b" x="397.7" y="463" font-size="14px" text-anchor="middle">0.6</text>
<text class="b" x="464.3" y="463" font-size="14px" text-anchor="middle">1.2</text>
<text class="b" x="531.0" y="463" font-size="14px" text-anchor="middle">1.8</text>
<path d="M568 400L568 396L570.7 376.2L573.2 388.2L575.7 376.2L577.7 394L577.7 400Z" fill="#787878"/>
<path d="M559.8 400C563 398.6 566 397.6 568.3 397.2M577.7 395.2C583 399 588 402.6 593.6 402.7C603 402.2 613 400 623.1 396.6" fill="none" stroke="#1414dc" stroke-width="2"/>
<text class="b" x="580" y="395.3" font-size="24.5px" font-style="italic" textLength="43.5">RIU</text>
<g fill="none" stroke="#000" stroke-width="3.8" stroke-linejoin="miter" stroke-miterlimit="10">
<path d="M570.2 439.3L577.5 432.3L615.6 432.3L608.3 439.3Z"/>
<path d="M603.6 419.5L603.6 430.8L582.6 452.5L582.6 441.2Z"/>
</g>
<text class="b" x="595.6" y="461.4" font-size="13.2px" textLength="27.6">DLR</text>
</svg></body></html>
